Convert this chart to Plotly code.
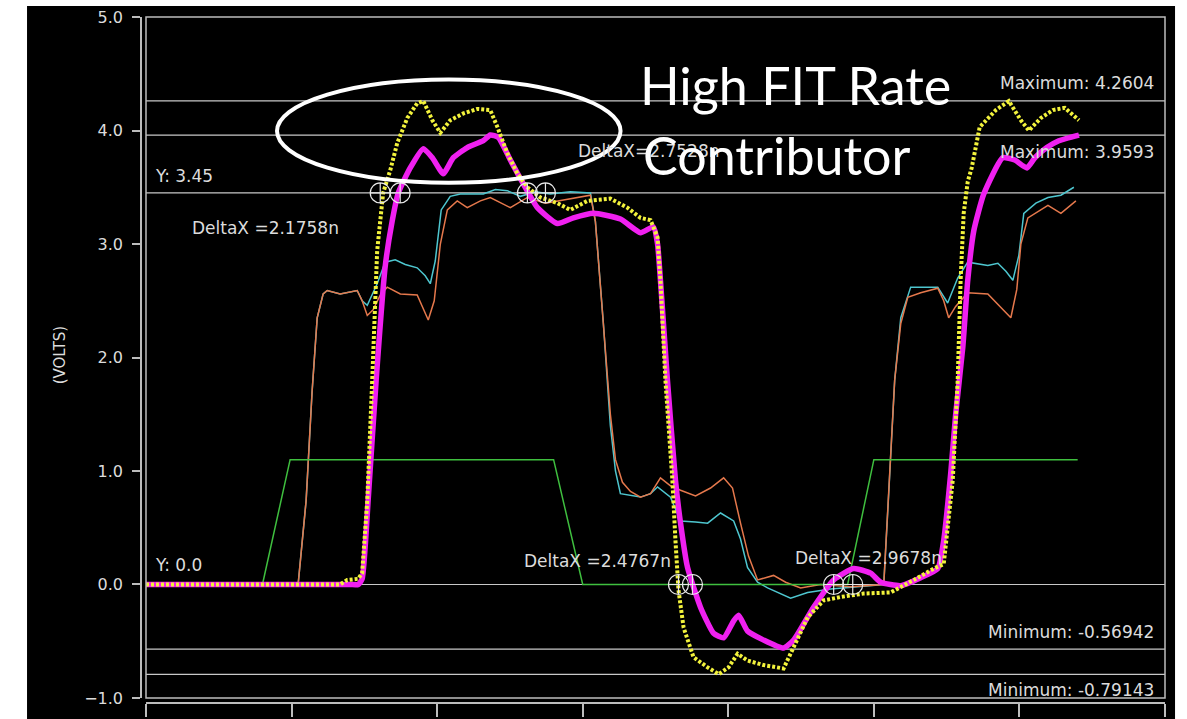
import plotly.graph_objects as go

# ---------------- data (time in ns, 1 ns per division; volts) ----------------
green_t = [0.0, 0.80, 0.99, 2.80, 3.00, 4.82, 5.00, 6.40]
green_v = [0.0, 0.0, 1.10, 1.10, 0.0, 0.0, 1.10, 1.10]

orange_t = [0.0, 1.045, 1.10, 1.141, 1.176, 1.217, 1.245, 1.334, 1.451, 1.485,
            1.52, 1.56, 1.609, 1.657, 1.747, 1.863, 1.939, 1.98, 2.022, 2.07,
            2.138, 2.207, 2.297, 2.365, 2.503, 2.62, 2.744, 2.915, 3.053, 3.087,
            3.142, 3.19, 3.225, 3.273, 3.328, 3.397, 3.466, 3.534, 3.603, 3.672,
            3.775, 3.878, 3.968, 4.029, 4.084, 4.139, 4.201, 4.256, 4.311, 4.394,
            4.497, 4.634, 4.841, 5.068, 5.102, 5.143, 5.185, 5.233, 5.322, 5.439,
            5.48, 5.514, 5.562, 5.645, 5.783, 5.872, 5.941, 5.982, 6.01, 6.058,
            6.196, 6.285, 6.388]
orange_v = [0.0, 0.0, 0.74, 1.7, 2.35, 2.56, 2.59, 2.56, 2.59, 2.5,
            2.37, 2.42, 2.55, 2.62, 2.56, 2.55, 2.33, 2.5, 3.0, 3.30,
            3.38, 3.32, 3.38, 3.41, 3.32, 3.41, 3.36, 3.40, 3.43, 3.2,
            2.3, 1.5, 1.1, 0.9, 0.82, 0.77, 0.8, 0.94, 0.87, 0.83,
            0.78, 0.85, 0.94, 0.85, 0.54, 0.25, 0.04, 0.06, 0.08, 0.02,
            -0.03, 0.0, -0.02, 0.0, 0.8, 1.8, 2.3, 2.53, 2.57, 2.61,
            2.5, 2.35, 2.45, 2.57, 2.56, 2.44, 2.35, 2.6, 3.0, 3.23,
            3.34, 3.27, 3.38]

cyan_t = [0.0, 1.045, 1.10, 1.141, 1.176, 1.217, 1.245, 1.334, 1.451, 1.485,
          1.52, 1.588, 1.643, 1.712, 1.781, 1.863, 1.918, 1.953, 1.987, 2.028,
          2.09, 2.159, 2.317, 2.4, 2.482, 2.572, 2.675, 2.778, 2.915, 3.053,
          3.087, 3.142, 3.19, 3.225, 3.259, 3.397, 3.466, 3.514, 3.603, 3.672,
          3.775, 3.858, 3.947, 4.037, 4.084, 4.132, 4.201, 4.27, 4.428, 4.545,
          4.703, 4.91, 5.068, 5.102, 5.143, 5.185, 5.253, 5.439, 5.507, 5.576,
          5.645, 5.783, 5.852, 5.907, 5.955, 5.996, 6.03, 6.113, 6.196, 6.285,
          6.374]
cyan_v = [0.0, 0.0, 0.74, 1.7, 2.35, 2.56, 2.59, 2.56, 2.59, 2.5,
          2.46, 2.65, 2.84, 2.86, 2.82, 2.79, 2.72, 2.65, 2.85, 3.3,
          3.42, 3.44, 3.44, 3.48, 3.47, 3.42, 3.46, 3.44, 3.46, 3.45,
          3.2, 2.3, 1.4, 1.0, 0.80, 0.77, 0.8, 0.86, 0.77, 0.56,
          0.55, 0.54, 0.63, 0.56, 0.4, 0.15, 0.02, -0.03, -0.12, -0.07,
          -0.04, -0.02, 0.0, 0.8, 1.8, 2.35, 2.62, 2.62, 2.48, 2.7,
          2.84, 2.81, 2.83, 2.76, 2.68, 2.9, 3.27, 3.36, 3.41, 3.43,
          3.50]

magenta_t = [0.0, 0.70, 1.40, 1.458, 1.485, 1.526, 1.581, 1.643, 1.691, 1.733,
             1.815, 1.905,
             1.967, 2.042, 2.111, 2.207, 2.317, 2.365, 2.42, 2.503, 2.592, 2.689,
             2.826, 2.936, 3.074, 3.259, 3.397, 3.486, 3.514, 3.534, 3.582, 3.637,
             3.672, 3.72, 3.809, 3.899, 3.968, 4.037, 4.071, 4.132, 4.243, 4.38,
             4.449, 4.586, 4.724, 4.861, 4.978, 5.047, 5.185, 5.322, 5.439, 5.48,
             5.528, 5.562, 5.611, 5.645, 5.687, 5.755, 5.885, 5.968, 6.051, 6.106,
             6.188, 6.271, 6.409]
magenta_v = [0.0, 0.0, 0.0, 0.0, 0.05, 0.74, 1.8, 2.8, 3.2, 3.45,
             3.67, 3.84,
             3.76, 3.62, 3.76, 3.85, 3.91, 3.96, 3.94, 3.74, 3.53, 3.32,
             3.18, 3.23, 3.27, 3.22, 3.10, 3.15, 3.0, 2.68, 1.80, 0.92,
             0.54, 0.15, -0.20, -0.43, -0.47, -0.32, -0.27, -0.41, -0.49, -0.56,
             -0.49, -0.20, 0.04, 0.14, 0.10, 0.02, -0.01, 0.06, 0.14, 0.39,
             0.98, 1.5, 2.09, 2.68, 3.12, 3.44, 3.76, 3.74, 3.67, 3.76,
             3.85, 3.91, 3.96]

yellow_t = [0.0, 1.334, 1.382, 1.458, 1.485, 1.52, 1.554, 1.588, 1.629, 1.678,
            1.726, 1.795, 1.863, 1.905, 1.967, 2.022, 2.09, 2.18, 2.276, 2.365,
            2.414, 2.482, 2.551, 2.62, 2.709, 2.826, 2.915, 3.032, 3.19, 3.307,
            3.397, 3.466, 3.514, 3.534, 3.568, 3.616, 3.637, 3.658, 3.693, 3.761,
            3.858, 3.934, 4.002, 4.064, 4.132, 4.243, 4.38, 4.449, 4.545, 4.655,
            4.772, 4.93, 5.116, 5.274, 5.411, 5.48, 5.514, 5.542, 5.576, 5.596,
            5.617, 5.645, 5.672, 5.727, 5.838, 5.927, 6.01, 6.065, 6.147, 6.23,
            6.312, 6.409]
yellow_v = [0.0, 0.0, 0.04, 0.05, 0.1, 0.74, 1.8, 2.94, 3.45, 3.65,
            3.89, 4.11, 4.24, 4.26, 4.09, 3.98, 4.09, 4.15, 4.19, 4.18,
            4.03, 3.80, 3.62, 3.50, 3.41, 3.36, 3.30, 3.38, 3.40, 3.32,
            3.23, 3.21, 3.06, 2.68, 1.80, 0.92, 0.39, -0.05, -0.38, -0.64,
            -0.73, -0.79, -0.73, -0.61, -0.67, -0.71, -0.74, -0.56, -0.29, -0.14,
            -0.11, -0.08, -0.07, 0.04, 0.14, 0.18, 0.6, 0.92, 1.80, 2.68,
            3.27, 3.55, 3.67, 4.03, 4.18, 4.26, 4.09, 4.00, 4.11, 4.18,
            4.20, 4.09]

# horizontal cursor / measurement levels (volts)
ref_levels = [4.2604, 3.9593, 3.45, 0.0, -0.56942, -0.79143]

# crossing cursors
cursor_t = [1.609, 1.746, 2.62, 2.744, 3.658, 3.754, 4.724, 4.855]
cursor_v = [3.45, 3.45, 3.45, 3.45, 0.0, 0.0, 0.0, 0.0]

y_ticks = [-1.0, 0.0, 1.0, 2.0, 3.0, 4.0, 5.0]
x_ticks = [0, 1, 2, 3, 4, 5, 6, 7]

# ---------------- figure ----------------
GRAY = "#bdbdbd"
TXT = "#dcdcdc"
FONT = "DejaVu Sans"

fig = go.Figure()

fig.add_trace(go.Scatter(x=cyan_t, y=cyan_v, mode="lines",
                         line=dict(color="#4ec6cf", width=1.5), name="cyan"))
fig.add_trace(go.Scatter(x=orange_t, y=orange_v, mode="lines",
                         line=dict(color="#e5784c", width=1.5), name="orange"))
fig.add_trace(go.Scatter(x=green_t, y=green_v, mode="lines",
                         line=dict(color="#3fbf3f", width=1.5), name="green"))
fig.add_trace(go.Scatter(x=magenta_t, y=magenta_v, mode="lines",
                         line=dict(color="#f020f0", width=5.5, shape="spline",
                                   smoothing=0.5), name="magenta"))
fig.add_trace(go.Scatter(x=yellow_t, y=yellow_v, mode="lines",
                         line=dict(color="#f2f23c", width=4, dash="3px,2px"),
                         name="yellow"))
fig.add_trace(go.Scatter(x=cursor_t, y=cursor_v, mode="markers",
                         marker=dict(symbol="circle-cross-open", size=20,
                                     color="#e8e8e8", line=dict(width=1.2)),
                         name="cursors"))

shapes = []
for lv in ref_levels:
    shapes.append(dict(type="line", xref="x domain", yref="y", x0=0, x1=1,
                       y0=lv, y1=lv, line=dict(color="#c8c8c8", width=1.2),
                       layer="below"))
# plot frame
shapes.append(dict(type="rect", xref="x domain", yref="y domain", x0=0, x1=1,
                   y0=0, y1=1, line=dict(color=GRAY, width=1.5)))
# highlight ellipse
shapes.append(dict(type="circle", xref="x", yref="y", x0=0.90, x1=3.26,
                   y0=3.54, y1=4.45, line=dict(color="white", width=4)))
# white page borders of the screenshot
shapes.append(dict(type="rect", xref="paper", yref="paper", x0=-0.14, x1=-0.1113,
                   y0=-0.03, y1=1.03, fillcolor="white", line=dict(width=0)))
shapes.append(dict(type="rect", xref="paper", yref="paper", x0=-0.14, x1=1.03,
                   y0=1.016, y1=1.03, fillcolor="white", line=dict(width=0)))
shapes.append(dict(type="rect", xref="paper", yref="paper", x0=1.0098, x1=1.03,
                   y0=-0.03, y1=1.03, fillcolor="white", line=dict(width=0)))

def lab(text, x, y, xanchor="left", size=17):
    return dict(text=text, x=x, y=y, xref="x", yref="y", xanchor=xanchor,
                yanchor="middle", showarrow=False,
                font=dict(family=FONT, size=size, color=TXT))

annotations = [
    lab("Y: 3.45", 0.048, 3.60),
    lab("DeltaX =2.1758n", 0.30, 3.14),
    lab("DeltaX=2.7528n", 2.957, 3.82),
    lab("Maximum: 4.2604", 6.94, 4.42, "right"),
    lab("Maximum: 3.9593", 6.94, 3.81, "right"),
    lab("Y: 0.0", 0.048, 0.17),
    lab("DeltaX =2.4767n", 2.585, 0.21),
    lab("DeltaX =2.9678n", 4.442, 0.23),
    lab("Minimum: -0.56942", 6.94, -0.42, "right"),
    lab("Minimum: -0.79143", 6.94, -0.93, "right"),
    dict(text="(VOLTS)", x=-0.079, y=0.507, xref="paper", yref="paper",
         textangle=-90, showarrow=False, xanchor="center", yanchor="middle",
         font=dict(family=FONT, size=15, color=TXT)),
    dict(text="High FIT Rate", x=3.383, y=4.40, xref="x", yref="y",
         xanchor="left", yanchor="middle", showarrow=False,
         font=dict(family="Lato", size=52, color="white")),
    dict(text="Contributor", x=3.40, y=3.78, xref="x", yref="y",
         xanchor="left", yanchor="middle", showarrow=False,
         font=dict(family="Lato", size=52, color="white")),
]

fig.update_layout(
    width=1187, height=719, autosize=False,
    margin=dict(l=141, r=22, t=17, b=16, pad=0, autoexpand=False),
    paper_bgcolor="black", plot_bgcolor="black",
    showlegend=False,
    shapes=shapes, annotations=annotations,
    xaxis=dict(domain=[0.00488, 1], range=[0, 7], tickvals=x_ticks,
               anchor="free", position=0, showline=True, linecolor=GRAY,
               linewidth=1.5, ticks="outside", ticklen=13, tickcolor=GRAY,
               tickwidth=1.5, showticklabels=False, showgrid=False,
               zeroline=False, automargin=False),
    yaxis=dict(domain=[0.0073, 1], range=[-1, 5], tickvals=y_ticks,
               tickformat=".1f", anchor="free", position=0, showline=True,
               linecolor=GRAY, linewidth=1.5, ticks="outside", ticklen=8,
               tickcolor=GRAY, tickwidth=1.5, showgrid=False, zeroline=False,
               automargin=False, ticklabelstandoff=6,
               tickfont=dict(family=FONT, size=16, color=TXT)),
)

fig.write_html("out.html",
               config={"displayModeBar": False, "responsive": False},
               post_script="document.body.style.margin='0';"
                           "document.body.style.overflow='hidden';")
